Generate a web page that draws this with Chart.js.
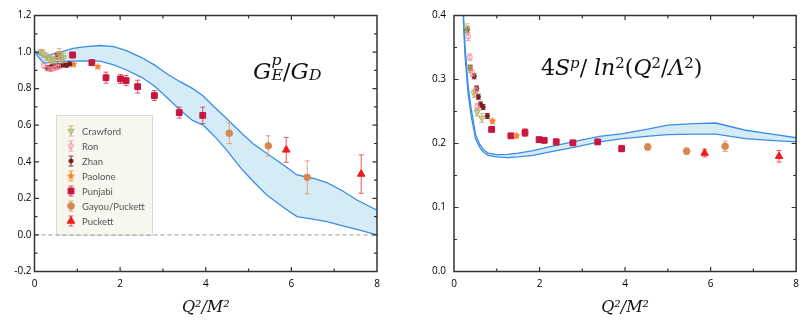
<!DOCTYPE html>
<html>
<head>
<meta charset="utf-8">
<script src="https://cdn.jsdelivr.net/npm/chart.js@4.4.1/dist/chart.umd.min.js"></script>
<style>
  html, body { margin: 0; padding: 0; background: #fff; }
  #wrap { position: relative; width: 806px; height: 323px; overflow: hidden; }
  .panel { position: absolute; top: 0; height: 323px; }
  .ttl { position: absolute; font-family: 'DejaVu Serif', serif; color: #111; white-space: nowrap; line-height: 1; }
  .ttl i { font-style: italic; }
  .ttl sup { font-size: 0.68em; vertical-align: 0.5em; line-height: 0; }
  .ss { display: inline-block; vertical-align: -0.03em; font-size: 0.68em; line-height: 0.95; font-style: italic; }
  .ss span { display: block; }
</style>
</head>
<body>
<div id="wrap">
  <div class="panel" style="left:0;width:403px"><canvas id="gep" width="403" height="323"></canvas></div>
  <div class="panel" style="left:403px;width:403px"><canvas id="sp" width="403" height="323"></canvas></div>
  <div class="ttl" id="t1" style="left:253px;top:53px;font-size:23px"><i>G</i><span class="ss"><span>p</span><span>E</span></span>/<i>G</i><span class="ss"><span>&nbsp;</span><span>D</span></span></div>
  <div class="ttl" id="t2" style="left:541px;top:57px;font-size:22px">4<i>S</i><sup><i>p</i></sup>/ <i>ln</i><sup>2</sup>(<i>Q</i><sup>2</sup>/<i>Λ</i><sup>2</sup>)</div>
</div>
<script>
// ---- left panel: G_E^p / G_D  (points are [Q2, value, error]) ----
const gepCrawford = [[0.15, 1.0, 0.015], [0.2, 0.99, 0.02], [0.28, 0.975, 0.02], [0.35, 0.96, 0.02], [0.42, 0.955, 0.02], [0.5, 0.96, 0.025], [0.58, 0.99, 0.03], [0.62, 0.965, 0.025], [0.68, 0.97, 0.025]];
const gepRon = [[0.22, 0.925, 0.012], [0.3, 0.91, 0.012], [0.38, 0.905, 0.01], [0.45, 0.91, 0.01], [0.52, 0.915, 0.01], [0.56, 0.92, 0.01]];
const gepZhan = [[0.3, 0.915, 0.01], [0.35, 0.91, 0.01], [0.4, 0.92, 0.01], [0.45, 0.925, 0.01], [0.5, 0.92, 0.01], [0.55, 0.928, 0.01], [0.6, 0.925, 0.01], [0.68, 0.93, 0.01], [0.75, 0.928, 0.01], [0.82, 0.935, 0.01]];
const gepPaolone = [[0.91, 0.933, 0.007], [1.48, 0.92, 0.007]];
const gepPunjabi = [[0.56, 0.98, 0.02], [0.89, 0.984, 0.015], [1.34, 0.942, 0.015], [1.67, 0.86, 0.03], [2.01, 0.853, 0.025], [2.14, 0.844, 0.028], [2.41, 0.811, 0.035], [2.8, 0.762, 0.027], [3.38, 0.669, 0.03], [3.93, 0.654, 0.045]];
const gepGayou = [[4.55, 0.556, 0.057], [5.46, 0.487, 0.055], [6.37, 0.315, 0.09]];
const gepPuckett = [[5.88, 0.465, 0.068], [7.63, 0.333, 0.105]];
const gepBandX = [0, 0.1, 0.22, 0.4, 0.6, 0.9, 1.2, 1.53, 1.85, 2.15, 2.5, 2.8, 3.1, 3.4, 3.7, 3.94, 4.2, 4.45, 4.84, 5.1, 5.42, 5.8, 6.13, 6.5, 6.83, 7.2, 7.53, 8.0];
const gepBandHigh = [1.005, 0.99, 0.972, 0.988, 1.0, 1.02, 1.03, 1.036, 1.03, 1.008, 0.97, 0.93, 0.88, 0.838, 0.8, 0.76, 0.7, 0.645, 0.556, 0.5, 0.447, 0.385, 0.328, 0.31, 0.286, 0.24, 0.191, 0.135];
const gepBandLow = [1.005, 0.97, 0.94, 0.945, 0.949, 0.951, 0.952, 0.951, 0.93, 0.902, 0.862, 0.815, 0.75, 0.683, 0.625, 0.601, 0.54, 0.475, 0.36, 0.295, 0.22, 0.153, 0.1, 0.087, 0.073, 0.05, 0.03, 0.0];

// ---- right panel: 4 S^p / ln^2(Q2/Lambda2) ----
const spCrawford = [[0.3, 0.38, 0.007], [0.37, 0.317, 0.006], [0.47, 0.278, 0.006], [0.54, 0.249, 0.006], [0.65, 0.24, 0.007]];
const spRon = [[0.33, 0.367, 0.006], [0.37, 0.335, 0.005], [0.43, 0.31, 0.005], [0.51, 0.283, 0.005], [0.54, 0.258, 0.005]];
const spZhan = [[0.31, 0.378, 0.005], [0.38, 0.318, 0.004], [0.47, 0.305, 0.004], [0.53, 0.286, 0.004], [0.57, 0.273, 0.004], [0.62, 0.261, 0.004], [0.68, 0.257, 0.004], [0.78, 0.243, 0.004]];
const spPaolone = [[0.9, 0.235, 0.003], [1.46, 0.212, 0.003]];
const spPunjabi = [[0.88, 0.222, 0.003], [1.33, 0.212, 0.003], [1.66, 0.217, 0.006], [1.99, 0.206, 0.004], [2.11, 0.205, 0.004], [2.39, 0.2025, 0.005], [2.78, 0.201, 0.004], [3.36, 0.2025, 0.004], [3.92, 0.192, 0.005]];
const spGayou = [[4.53, 0.1945, 0.005], [5.44, 0.188, 0.005], [6.34, 0.1956, 0.008]];
const spPuckett = [[5.86, 0.185, 0.006], [7.6, 0.18, 0.009]];
const spBandX = [0.21, 0.23, 0.26, 0.33, 0.4, 0.45, 0.5, 0.6, 0.7, 0.8, 1.0, 1.25, 1.5, 1.85, 2.25, 2.8, 3.4, 3.95, 4.5, 5.0, 5.6, 6.12, 6.82, 7.4, 8.0];
const spBandHigh = [0.42, 0.39, 0.35, 0.29, 0.255, 0.236, 0.215, 0.199, 0.19, 0.185, 0.1825, 0.183, 0.185, 0.189, 0.195, 0.203, 0.211, 0.2155, 0.222, 0.2286, 0.231, 0.232, 0.2207, 0.215, 0.209];
const spBandLow = [0.41, 0.375, 0.335, 0.278, 0.244, 0.226, 0.208, 0.194, 0.186, 0.1815, 0.179, 0.178, 0.179, 0.1815, 0.187, 0.194, 0.2024, 0.2077, 0.211, 0.214, 0.2145, 0.2145, 0.2077, 0.205, 0.2024];

const xTicks = [0, 2, 4, 6, 8];
const gepTicks = [-0.2, 0, 0.2, 0.4, 0.6, 0.8, 1.0, 1.2];
const spTicks = [0, 0.1, 0.2, 0.3, 0.4];

function starImage(color, r) {
  const c = document.createElement('canvas');
  c.width = c.height = Math.ceil(2 * r + 2);
  const g = c.getContext('2d');
  g.fillStyle = color;
  g.beginPath();
  for (let i = 0; i < 10; i++) {
    const rad = i % 2 ? r * 0.45 : r;
    const a = -Math.PI / 2 + i * Math.PI / 5;
    g.lineTo(c.width / 2 + rad * Math.cos(a), c.height / 2 + rad * Math.sin(a));
  }
  g.closePath();
  g.fill();
  return c;
}

const styles = {
  Crawford: { color: '#b6b26c', err: 'rgba(182,178,108,0.85)', pointStyle: 'triangle', rotation: 180, radius: 3.6, fill: 'rgba(182,178,108,0.45)' },
  Ron: { color: '#f2879a', err: 'rgba(242,135,154,0.8)', pointStyle: 'circle', radius: 2.4, fill: 'rgba(255,255,255,0)' },
  Zhan: { color: '#7a1b1f', err: 'rgba(122,27,31,0.85)', pointStyle: 'circle', radius: 2.1, fill: '#7a1b1f' },
  Paolone: { color: '#f5802a', err: 'rgba(245,128,42,0.8)', pointStyle: starImage('#f5802a', 4.2), radius: 4, fill: '#f5802a' },
  Punjabi: { color: '#c8163f', err: 'rgba(208,60,90,0.85)', pointStyle: 'rect', radius: 4.1, fill: '#c8163f' },
  'Gayou/Puckett': { color: '#d98650', err: 'rgba(222,150,110,0.85)', pointStyle: 'circle', radius: 3.3, fill: '#d98650' },
  Puckett: { color: '#f01c1c', err: 'rgba(240,60,60,0.85)', pointStyle: 'triangle', rotation: 0, radius: 4.4, fill: '#f01c1c' }
};

function pointSet(name, pts) {
  const s = styles[name];
  return {
    type: 'scatter',
    label: name,
    data: pts.map(p => ({ x: p[0], y: p[1] })),
    errors: pts.map(p => p[2]),
    errColor: s.err,
    pointStyle: s.pointStyle,
    rotation: s.rotation || 0,
    pointRadius: s.radius,
    pointBackgroundColor: s.fill,
    pointBorderColor: s.color,
    pointBorderWidth: 1,
    order: 1
  };
}

function bandSets(xs, low, high) {
  const line = { type: 'line', showLine: true, pointRadius: 0, borderColor: '#3a8ee8', borderWidth: 1.3, tension: 0, order: 10 };
  return [
    Object.assign({}, line, { label: 'band low', data: xs.map((x, i) => ({ x, y: low[i] })), fill: false }),
    Object.assign({}, line, { label: 'band high', data: xs.map((x, i) => ({ x, y: high[i] })), fill: '-1', backgroundColor: '#d5ebf6' })
  ];
}

// error bars, drawn just under each point set
const errorBars = {
  id: 'errorBars',
  beforeDatasetDraw(chart, args) {
    const ds = chart.data.datasets[args.index];
    if (!ds.errors) return;
    const { ctx, chartArea: a, scales: { x, y } } = chart;
    ctx.save();
    ctx.beginPath();
    ctx.rect(a.left, a.top, a.right - a.left, a.bottom - a.top);
    ctx.clip();
    ctx.strokeStyle = ds.errColor;
    ctx.lineWidth = 1;
    ds.data.forEach((p, i) => {
      const px = x.getPixelForValue(p.x);
      const t = y.getPixelForValue(p.y + ds.errors[i]);
      const b = y.getPixelForValue(p.y - ds.errors[i]);
      ctx.beginPath();
      ctx.moveTo(px, t); ctx.lineTo(px, b);
      ctx.moveTo(px - 2.5, t); ctx.lineTo(px + 2.5, t);
      ctx.moveTo(px - 2.5, b); ctx.lineTo(px + 2.5, b);
      ctx.stroke();
    });
    ctx.restore();
  }
};

// frame with inward ticks on all four sides
const frame = {
  id: 'frame',
  afterDraw(chart, args, opts) {
    const { ctx, chartArea: a, scales: { x, y } } = chart;
    ctx.save();
    ctx.strokeStyle = '#333';
    ctx.lineWidth = 1.5;
    ctx.strokeRect(a.left, a.top, a.right - a.left, a.bottom - a.top);
    ctx.lineWidth = 1.2;
    const walk = (scale, minor, major, fn) => {
      for (let i = 1; ; i++) {
        const v = scale.min + i * minor;
        if (v >= scale.max - 1e-9) break;
        const q = v / major;
        fn(scale.getPixelForValue(v), Math.abs(q - Math.round(q)) < 1e-6 ? 4.5 : 3);
      }
    };
    ctx.beginPath();
    walk(x, opts.xMinor, opts.xMajor, (p, l) => {
      ctx.moveTo(p, a.bottom); ctx.lineTo(p, a.bottom - l);
      ctx.moveTo(p, a.top); ctx.lineTo(p, a.top + l);
    });
    walk(y, opts.yMinor, opts.yMajor, (p, l) => {
      ctx.moveTo(a.left, p); ctx.lineTo(a.left + l, p);
      ctx.moveTo(a.right, p); ctx.lineTo(a.right - l, p);
    });
    ctx.stroke();
    ctx.restore();
  }
};

// legend box and dashed zero line for the left panel
const gepDecor = {
  id: 'gepDecor',
  beforeDatasetsDraw(chart) {
    const { ctx, chartArea: a, scales: { y } } = chart;
    ctx.save();
    const bx = 56, by = 115, bw = 96, bh = y.getPixelForValue(0) - by;
    ctx.fillStyle = '#f7f6ef';
    ctx.fillRect(bx, by, bw, bh);
    ctx.strokeStyle = '#dcdcd6';
    ctx.lineWidth = 1;
    ctx.strokeRect(bx + 0.5, by + 0.5, bw, bh);
    ctx.font = '9.5px Lato, "Open Sans", sans-serif';
    ctx.textBaseline = 'middle';
    const points = chart.data.datasets.filter(d => d.errors);
    points.forEach((d, i) => {
      const cy = 131 + i * 15, cx = 71;
      ctx.strokeStyle = d.errColor;
      ctx.lineWidth = 1;
      ctx.beginPath();
      ctx.moveTo(cx, cy - 5); ctx.lineTo(cx, cy + 5);
      ctx.moveTo(cx - 2.5, cy - 5); ctx.lineTo(cx + 2.5, cy - 5);
      ctx.moveTo(cx - 2.5, cy + 5); ctx.lineTo(cx + 2.5, cy + 5);
      ctx.stroke();
      ctx.fillStyle = d.pointBackgroundColor;
      ctx.strokeStyle = d.pointBorderColor;
      Chart.helpers.drawPoint(ctx, { pointStyle: d.pointStyle, radius: d.pointRadius, rotation: d.rotation, borderWidth: 1 }, cx, cy);
      ctx.fillStyle = '#555';
      ctx.fillText(d.label, 82, cy + 0.5);
    });
    const z = y.getPixelForValue(0);
    ctx.strokeStyle = '#9a9a9a';
    ctx.lineWidth = 1;
    ctx.setLineDash([4, 3]);
    ctx.beginPath();
    ctx.moveTo(a.left, z); ctx.lineTo(a.right, z);
    ctx.stroke();
    ctx.restore();
  }
};

const tickFont = { family: 'Open Sans', size: 10 };
const axisTitle = { display: true, text: 'Q²/M²', color: '#111', font: { family: 'DejaVu Serif', style: 'italic', size: 16 }, padding: { top: 0, bottom: 6 } };

function makeChart(id, sets, yMin, yMax, yTicks, leftW, padRight, labelPad, minorY, majorY, extra) {
  return new Chart(document.getElementById(id), {
    type: 'scatter',
    data: { datasets: sets },
    plugins: [errorBars, frame].concat(extra),
    options: {
      responsive: false,
      animation: false,
      layout: { padding: { top: 15.5, right: padRight, left: 0, bottom: 0 } },
      plugins: {
        legend: { display: false },
        tooltip: { enabled: false },
        frame: { xMinor: 1, xMajor: 2, yMinor: minorY, yMajor: majorY }
      },
      scales: {
        x: {
          type: 'linear', min: 0, max: 8,
          afterFit: s => { s.height = 51.5; },
          afterBuildTicks: s => { s.ticks = xTicks.map(v => ({ value: v })); },
          grid: { display: false, drawTicks: false },
          border: { display: false },
          ticks: { padding: 7, color: '#000', font: tickFont },
          title: axisTitle
        },
        y: {
          type: 'linear', min: yMin, max: yMax,
          afterFit: s => { s.width = leftW; },
          afterBuildTicks: s => { s.ticks = yTicks.map(v => ({ value: v })); },
          grid: { display: false, drawTicks: false },
          border: { display: false },
          ticks: { padding: labelPad, color: '#000', font: tickFont, callback: v => v.toFixed(1) }
        }
      }
    }
  });
}

makeChart('gep', bandSets(gepBandX, gepBandLow, gepBandHigh).concat([
  pointSet('Crawford', gepCrawford),
  pointSet('Ron', gepRon),
  pointSet('Zhan', gepZhan),
  pointSet('Paolone', gepPaolone),
  pointSet('Punjabi', gepPunjabi),
  pointSet('Gayou/Puckett', gepGayou),
  pointSet('Puckett', gepPuckett)
]), -0.2, 1.2, gepTicks, 34.5, 26, 3, 0.1, 0.2, [gepDecor]);

makeChart('sp', bandSets(spBandX, spBandLow, spBandHigh).concat([
  pointSet('Crawford', spCrawford),
  pointSet('Ron', spRon),
  pointSet('Zhan', spZhan),
  pointSet('Paolone', spPaolone),
  pointSet('Punjabi', spPunjabi),
  pointSet('Gayou/Puckett', spGayou),
  pointSet('Puckett', spPuckett)
]), 0, 0.4, spTicks, 51, 9, 8, 0.05, 0.1, []);
</script>
</body>
</html>
